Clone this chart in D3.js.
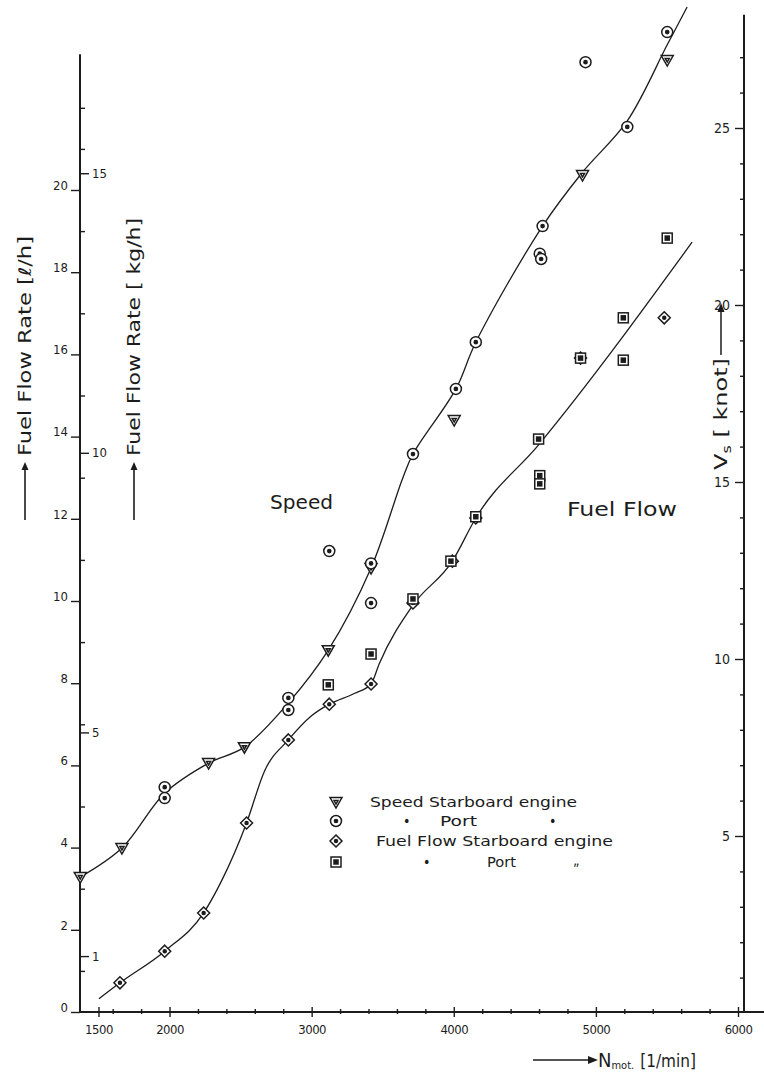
<!DOCTYPE html>
<html><head><meta charset="utf-8">
<script src="https://cdn.jsdelivr.net/npm/d3@7"></script>
<style>body{margin:0;background:#fff}svg{display:block}</style>
</head><body>
<svg id="c" width="764" height="1076"></svg>
<script>
// ---------- DATA ----------
const rpmMajorTicks = [1500, 2000, 3000, 4000, 5000, 6000];
const rpmTickLabels = ["1500", "2000", "3000", "4000", "5000", "6000"];
const rpmMinorTicks = [1600, 1800, 2200, 2400, 2600, 2800, 3200, 3400, 3600, 3800, 4200, 4400, 4600, 4800, 5200, 5400, 5600, 5800];
const lhMajorTicks = [0, 2, 4, 6, 8, 10, 12, 14, 16, 18, 20];
const lhMinorTicks = [1, 3, 5, 7, 9, 11, 13, 15, 17, 19, 21, 22];
const kgTicks = [1, 5, 10, 15];
const knotMajorTicks = [5, 10, 15, 20, 25];
const knotMinorTicks = [1, 2, 3, 4, 6, 7, 8, 9, 11, 12, 13, 14, 16, 17, 18, 19, 21, 22, 23, 24, 26, 27];
const kgPerLitre = 0.735;

// Speed, starboard engine (triangles) : rpm / knots
const speedStbRpm = [1372, 1665, 2275, 2527, 3117, 3418, 4003, 4906, 5502];
const speedStbKn  = [3.84, 4.66, 7.06, 7.51, 10.25, 12.57, 16.75, 23.67, 26.92];
// Speed, port engine (circles) : rpm / knots
const speedPortRpm = [1966, 1966, 2836, 2836, 3124, 3418, 3418, 3713, 4015, 4155, 4605, 4615, 4625, 4927, 5221, 5502];
const speedPortKn  = [6.38, 6.07, 8.90, 8.56, 13.05, 12.70, 11.58, 15.79, 17.63, 18.95, 21.45, 21.30, 22.23, 26.86, 25.03, 27.71];
// Speed faired curve
const speedCurveRpm = [1372, 1665, 1966, 2275, 2527, 2836, 3117, 3418, 3640, 3713, 4015, 4155, 4625, 4906, 5221, 5502, 5642];
const speedCurveKn  = [3.84, 4.66, 6.21, 7.06, 7.51, 8.76, 10.25, 12.57, 15.10, 15.79, 17.63, 18.95, 22.23, 23.75, 25.20, 27.35, 28.42];

// Fuel flow, starboard engine (diamonds) : rpm / l/h
const fuelStbRpm = [1651, 1966, 2240, 2542, 2836, 3124, 3418, 3713, 3990, 4155, 4892, 5481];
const fuelStbLh  = [0.71, 1.48, 2.41, 4.60, 6.62, 7.49, 7.98, 9.95, 10.97, 12.02, 15.91, 16.89];
// Fuel flow, port engine (squares) : rpm / l/h
const fuelPortRpm = [3117, 3418, 3713, 3980, 4155, 4597, 4605, 4605, 4892, 5193, 5193, 5502];
const fuelPortLh  = [7.96, 8.71, 10.05, 10.97, 12.05, 13.94, 13.05, 12.85, 15.91, 15.86, 16.89, 18.83];
// Fuel faired curve
const fuelCurveRpm = [1503, 1651, 1966, 2240, 2366, 2542, 2668, 2836, 2997, 3124, 3300, 3418, 3475, 3713, 3990, 4155, 4597, 5677];
const fuelCurveLh  = [0.32, 0.71, 1.48, 2.41, 3.19, 4.60, 5.86, 6.62, 7.20, 7.49, 7.75, 7.98, 8.47, 9.90, 10.97, 12.02, 13.80, 18.73];

const legendRows = ["Speed  Starboard engine", "Port", "Fuel Flow Starboard engine", "Port"];

// ---------- DRAWING ----------
const svg = d3.select("#c");
const ink = "#1c1c1c";
const font = "'DejaVu Sans Condensed','DejaVu Sans',sans-serif";

const x  = d3.scaleLinear().domain([1370, 6000]).range([80, 738]);
const yF = d3.scaleLinear().domain([0, 20]).range([1012, 190]);
const yKg = d3.scaleLinear().domain([0, 20 * kgPerLitre]).range([1012, 190]);
const yK = d3.scaleLinear().domain([0, 25]).range([1013, 128]);

function styleAxis(g) {
  g.select(".domain").remove();
  g.selectAll("line").attr("stroke", ink).attr("stroke-width", 1.4);
  g.selectAll("text").attr("fill", ink).attr("font-family", font);
}

// axis lines
svg.append("line").attr("x1", x(1370)).attr("x2", 764).attr("y1", yF(0)).attr("y2", yF(0))
  .attr("stroke", ink).attr("stroke-width", 2);
svg.append("line").attr("x1", x(1370)).attr("x2", x(1370)).attr("y1", yF(0)).attr("y2", yF(23.3))
  .attr("stroke", ink).attr("stroke-width", 2);
svg.append("line").attr("x1", x(6000) + 6).attr("x2", x(6000) + 6).attr("y1", yK(0)).attr("y2", yK(28.2))
  .attr("stroke", ink).attr("stroke-width", 2);

// x axis
const gx = svg.append("g").attr("transform", `translate(0,${yF(0)})`)
  .call(d3.axisBottom(x).tickValues(rpmMajorTicks).tickSize(5).tickPadding(8)
    .tickFormat((d, i) => rpmTickLabels[i]));
styleAxis(gx);
gx.selectAll(".tick line").attr("y1", -5);
gx.selectAll("text").attr("font-size", 13).attr("letter-spacing", -0.5);
const gxm = svg.append("g").attr("transform", `translate(0,${yF(0)})`)
  .call(d3.axisBottom(x).tickValues(rpmMinorTicks).tickSize(2).tickFormat(""));
styleAxis(gxm);
gxm.selectAll(".tick line").attr("y1", -3);

// left l/h axis
const gl = svg.append("g").attr("transform", `translate(${x(1370)},0)`)
  .call(d3.axisLeft(yF).tickValues(lhMajorTicks).tickSize(9).tickPadding(3));
styleAxis(gl);
gl.selectAll("text").attr("font-size", 13).attr("dy", "-0.05em");
const glm = svg.append("g").attr("transform", `translate(${x(1370)},0)`)
  .call(d3.axisRight(yF).tickValues(lhMinorTicks).tickSize(5).tickFormat(""));
styleAxis(glm);

// kg/h axis
const gkg = svg.append("g").attr("transform", `translate(${x(1370)},0)`)
  .call(d3.axisRight(yKg).tickValues(kgTicks).tickSize(9).tickPadding(3));
styleAxis(gkg);
gkg.selectAll("text").attr("font-size", 13);

// right knot axis
const gr = svg.append("g").attr("transform", `translate(${x(6000) + 6},0)`)
  .call(d3.axisLeft(yK).tickValues(knotMajorTicks).tickSize(9).tickPadding(5));
styleAxis(gr);
gr.selectAll("text").attr("font-size", 14);
const grm = svg.append("g").attr("transform", `translate(${x(6000) + 6},0)`)
  .call(d3.axisLeft(yK).tickValues(knotMinorTicks).tickSize(4).tickFormat(""));
styleAxis(grm);

// curves
const speedCurve = d3.zip(speedCurveRpm, speedCurveKn);
const fuelCurve = d3.zip(fuelCurveRpm, fuelCurveLh);
svg.append("path").datum(speedCurve)
  .attr("d", d3.line().x(d => x(d[0])).y(d => yK(d[1])).curve(d3.curveCatmullRom.alpha(0.5)))
  .attr("fill", "none").attr("stroke", ink).attr("stroke-width", 1.3);
svg.append("path").datum(fuelCurve)
  .attr("d", d3.line().x(d => x(d[0])).y(d => yF(d[1])).curve(d3.curveMonotoneX))
  .attr("fill", "none").attr("stroke", ink).attr("stroke-width", 1.3);

// markers
const mk = {
  tri: g => { g.append("path").attr("d", "M-6,-4.5L6,-4.5L0,6Z"); g.append("path").attr("d", "M-2,-1.5L2,-1.5L0,2Z"); },
  circ: g => { g.append("circle").attr("r", 5.5); g.append("circle").attr("r", 1.6).attr("fill", ink); },
  dia: g => { g.append("path").attr("d", "M0,-6L6,0L0,6L-6,0Z"); g.append("circle").attr("r", 1.5).attr("fill", ink); },
  sq: g => { g.append("rect").attr("x", -5).attr("y", -5).attr("width", 10).attr("height", 10); g.append("rect").attr("x", -2).attr("y", -2).attr("width", 4).attr("height", 4).attr("fill", ink); }
};
function drawPts(rpm, vals, yScale, kind) {
  const data = d3.zip(rpm, vals);
  svg.append("g").selectAll("g").data(data).join("g")
    .attr("transform", d => `translate(${x(d[0])},${yScale(d[1])})`)
    .attr("fill", "white").attr("stroke", ink).attr("stroke-width", 1.5)
    .each(function() { mk[kind](d3.select(this)); });
}
drawPts(fuelStbRpm, fuelStbLh, yF, "dia");
drawPts(fuelPortRpm, fuelPortLh, yF, "sq");
drawPts(speedStbRpm, speedStbKn, yK, "tri");
drawPts(speedPortRpm, speedPortKn, yK, "circ");

// in-plot labels
svg.append("text").attr("x", 270).attr("y", 509).attr("font-family", font).attr("font-size", 19)
  .attr("textLength", 63).attr("lengthAdjust", "spacingAndGlyphs").attr("fill", ink).text("Speed");
svg.append("text").attr("x", 567).attr("y", 516).attr("font-family", font).attr("font-size", 19)
  .attr("textLength", 110).attr("lengthAdjust", "spacingAndGlyphs").attr("fill", ink).text("Fuel Flow");

// legend
const legY = [802, 821, 841, 862];
const legKinds = ["tri", "circ", "dia", "sq"];
legY.forEach((yy, i) => {
  const g = svg.append("g").attr("transform", `translate(336,${yy})`)
    .attr("fill", "white").attr("stroke", ink).attr("stroke-width", 1.5);
  mk[legKinds[i]](g);
});
function legText(t, xx, yy, w) {
  const s = svg.append("text").attr("x", xx).attr("y", yy).attr("font-family", font).attr("font-size", 14)
    .attr("fill", ink).text(t);
  if (w) s.attr("textLength", w).attr("lengthAdjust", "spacingAndGlyphs");
}
legText(legendRows[0], 370, legY[0] + 5, 207);
legText("•", 403, legY[1] + 5); legText(legendRows[1], 440, legY[1] + 5, 37); legText("•", 549, legY[1] + 5);
legText(legendRows[2], 376, legY[2] + 5, 237);
legText("•", 423, legY[3] + 5); legText(legendRows[3], 487, legY[3] + 5, 29); legText("\u201E", 573, legY[3] + 3);

// axis titles
function arrowUp(xx, y0, y1) {
  svg.append("line").attr("x1", xx).attr("x2", xx).attr("y1", y0).attr("y2", y1 + 6).attr("stroke", ink).attr("stroke-width", 1.6);
  svg.append("path").attr("d", `M${xx - 3.5},${y1 + 8}L${xx + 3.5},${y1 + 8}L${xx},${y1}Z`).attr("fill", ink);
}
arrowUp(25, 520, 462);
svg.append("text").attr("transform", "translate(31,456) rotate(-90)").attr("font-family", font).attr("font-size", 17)
  .attr("textLength", 220).attr("lengthAdjust", "spacingAndGlyphs").attr("fill", ink).text("Fuel Flow Rate [\u2113/h]");
arrowUp(134, 520, 462);
svg.append("text").attr("transform", "translate(140,456) rotate(-90)").attr("font-family", font).attr("font-size", 17)
  .attr("textLength", 238).attr("lengthAdjust", "spacingAndGlyphs").attr("fill", ink).text("Fuel Flow Rate [ kg/h]");

// V_s label (right)
const vs = svg.append("text").attr("transform", "translate(727,470) rotate(-90)").attr("font-family", font)
  .attr("font-size", 18).attr("fill", ink).attr("textLength", 112).attr("lengthAdjust", "spacingAndGlyphs");
vs.append("tspan").text("V");
vs.append("tspan").attr("font-size", 12).attr("dy", 4).text("s");
vs.append("tspan").attr("dy", -4).text(" [ knot]");
svg.append("line").attr("x1", 721).attr("x2", 721).attr("y1", 355).attr("y2", 310).attr("stroke", ink).attr("stroke-width", 1.5);
svg.append("path").attr("d", "M717.5,312L724.5,312L721,303Z").attr("fill", ink);

// N_mot label (bottom)
svg.append("line").attr("x1", 533).attr("x2", 592).attr("y1", 1060).attr("y2", 1060).attr("stroke", ink).attr("stroke-width", 1.5);
svg.append("path").attr("d", "M588,1056L598,1060L588,1064Z").attr("fill", ink);
const nt = svg.append("text").attr("x", 598).attr("y", 1067).attr("font-family", font).attr("font-size", 20).attr("fill", ink);
nt.append("tspan").text("N");
nt.append("tspan").attr("font-size", 11).attr("dy", 2).text("mot.");
nt.append("tspan").attr("font-size", 17).attr("dy", -2).attr("dx", 6).text("[1/min]");
</script>
</body></html>
